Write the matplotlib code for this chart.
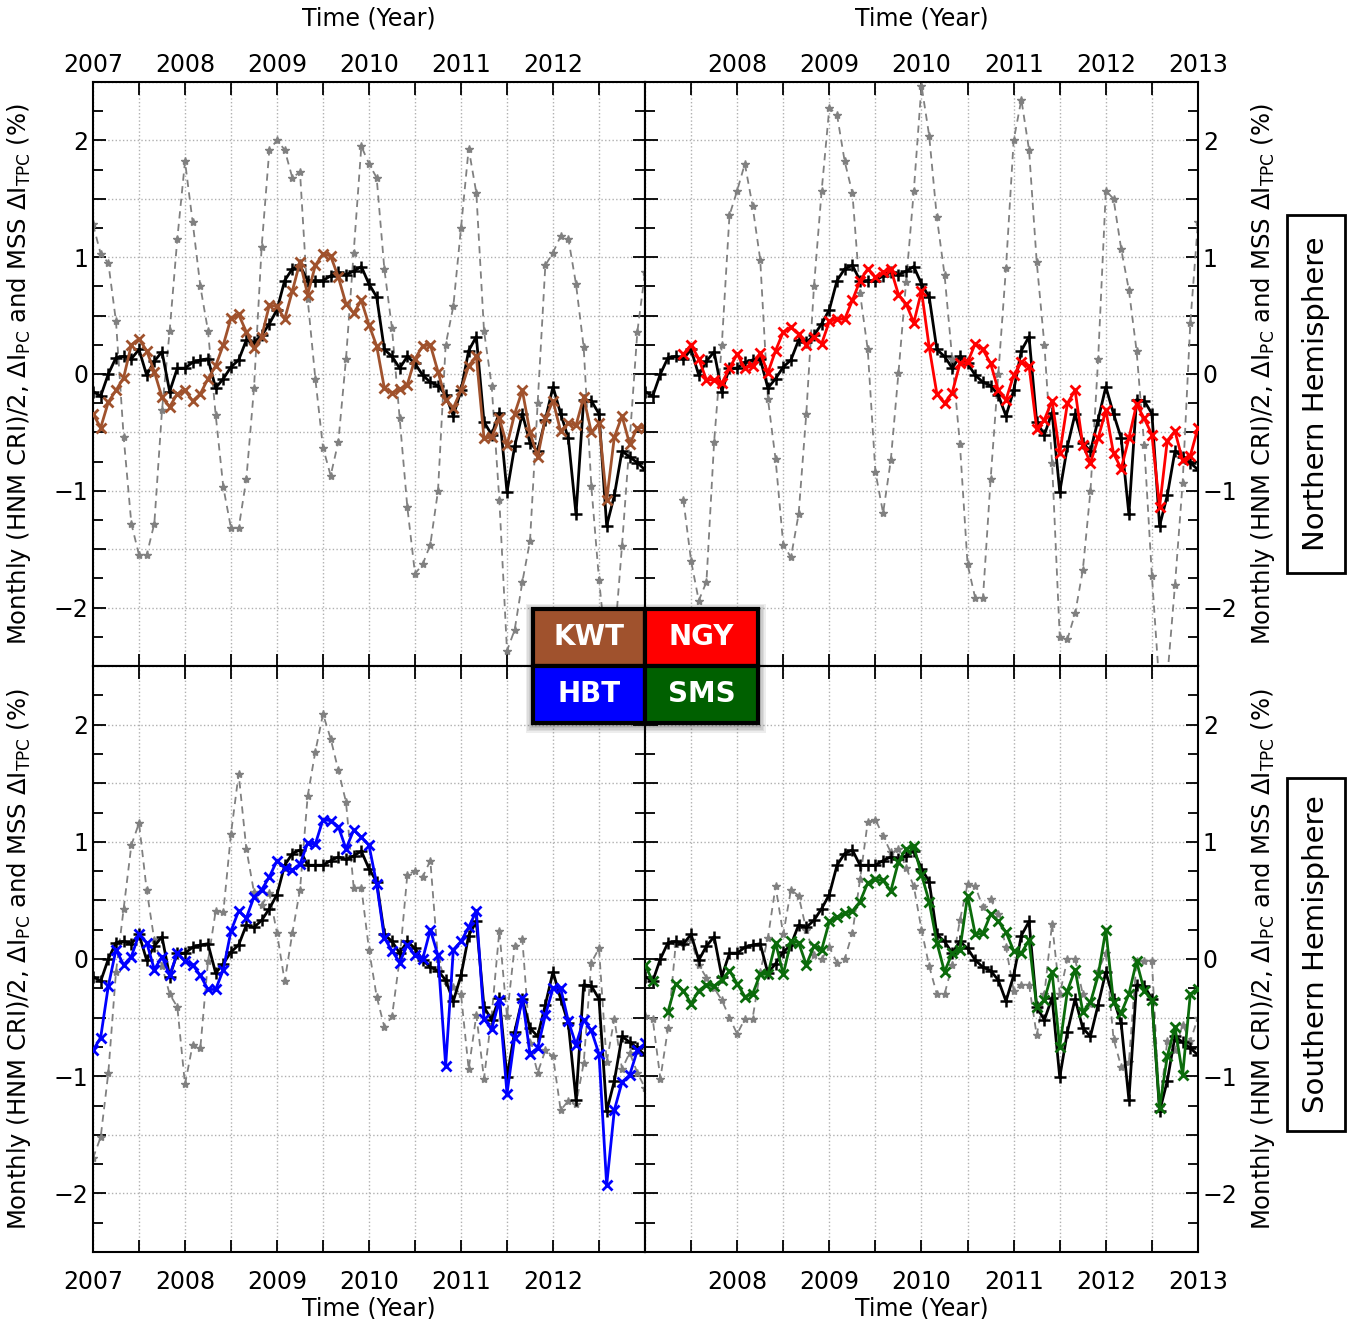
import numpy as np
import matplotlib
matplotlib.use("Agg")
import matplotlib.pyplot as plt
from matplotlib.ticker import MultipleLocator, FuncFormatter
from matplotlib.patches import Rectangle

plt.rcParams["font.family"] = ["DejaVu Sans"]
plt.rcParams["mathtext.default"] = "regular"

nan = np.nan

# monthly samples, Jan 2007 .. Jan 2013
months = 2007 + np.arange(73) / 12.0

# HNM cosmic ray intensity / 2 (same in every panel)
hnm_cri = [
    -0.15, -0.19, 0.00, 0.14, 0.15, 0.13, 0.21, -0.01, 0.11, 0.19, -0.15, 0.05,
    0.05, 0.10, 0.12, 0.13, -0.12, -0.04, 0.06, 0.12, 0.29, 0.27, 0.33, 0.43,
    0.55, 0.80, 0.90, 0.93, 0.80, 0.80, 0.80, 0.84, 0.87, 0.85, 0.88, 0.92,
    0.77, 0.66, 0.21, 0.15, 0.05, 0.15, 0.09, -0.01, -0.07, -0.10, -0.18, -0.36,
    -0.14, 0.20, 0.32, -0.41, -0.52, -0.33, -1.01, -0.62, -0.34, -0.59, -0.66, -0.39,
    -0.11, -0.34, -0.55, -1.20, -0.22, -0.23, -0.34, -1.30, -1.04, -0.66, -0.71, -0.76,
    -0.82,
]

# KWT
kwt_pc = [
    -0.34, -0.46, -0.24, -0.14, -0.03, 0.25, 0.30, 0.20, 0.02, -0.20, -0.28, -0.17,
    -0.14, -0.23, -0.17, -0.04, 0.07, 0.25, 0.48, 0.51, 0.36, 0.22, 0.32, 0.59,
    0.58, 0.47, 0.71, 0.96, 0.68, 0.93, 1.03, 1.01, 0.83, 0.60, 0.52, 0.63,
    0.42, 0.24, -0.12, -0.16, -0.13, -0.09, 0.13, 0.24, 0.25, 0.02, -0.22, -0.29,
    -0.14, 0.07, 0.15, -0.55, -0.54, -0.38, -0.61, -0.34, -0.14, -0.50, -0.71, -0.38,
    -0.23, -0.49, -0.42, -0.44, -0.20, -0.50, -0.42, -1.08, -0.54, -0.36, -0.60, -0.46,
    -0.46,
]
kwt_tpc = [
    1.28, 1.03, 0.95, 0.45, -0.54, -1.28, -1.55, -1.55, -1.28, -0.31, 0.37, 1.16,
    1.82, 1.30, 0.75, 0.37, -0.35, -0.97, -1.32, -1.32, -0.90, -0.12, 1.09, 1.92,
    2.00, 1.92, 1.68, 1.73, 0.64, -0.04, -0.63, -0.87, -0.58, 0.13, 1.04, 1.95,
    1.80, 1.68, 0.90, 0.39, -0.38, -1.14, -1.71, -1.63, -1.46, -1.00, 0.25, 0.58,
    1.25, 1.93, 1.55, 0.37, -0.10, -1.08, -2.37, -2.19, -1.78, -1.43, -0.25, 0.93,
    1.04, 1.18, 1.16, 0.77, 0.23, -0.96, -1.76, -2.40, -2.30, -1.47, -0.57, 0.36,
    0.87,
]

# NGY
ngy_pc = [
    nan, nan, nan, nan, nan, 0.17, 0.25, 0.13, -0.05, -0.05, -0.08, 0.05,
    0.17, 0.05, 0.07, 0.18, 0.01, 0.20, 0.36, 0.40, 0.34, 0.25, 0.32, 0.26,
    0.45, 0.47, 0.47, 0.63, 0.80, 0.90, 0.83, 0.87, 0.90, 0.68, 0.60, 0.44,
    0.71, 0.23, -0.17, -0.25, -0.16, 0.09, 0.10, 0.26, 0.21, 0.09, -0.14, -0.22,
    -0.01, 0.10, 0.07, -0.47, -0.39, -0.23, -0.68, -0.25, -0.14, -0.61, -0.76, -0.55,
    -0.31, -0.68, -0.81, -0.55, -0.26, -0.38, -0.52, -1.14, -0.57, -0.49, -0.74, -0.70,
    -0.46,
]
ngy_tpc = [
    nan, nan, nan, nan, nan, -1.08, -1.60, -1.94, -1.78, -0.58, 0.25, 1.36,
    1.57, 1.80, 1.44, 0.98, -0.21, -0.73, -1.46, -1.57, -1.20, -0.34, 0.75, 1.57,
    2.28, 2.22, 1.82, 1.55, 0.69, 0.21, -0.84, -1.19, -0.74, 0.01, 0.79, 1.57,
    2.47, 2.04, 1.34, 0.85, 0.13, -0.60, -1.63, -1.92, -1.92, -0.90, 0.00, 0.91,
    2.00, 2.35, 1.92, 0.96, 0.25, -0.76, -2.25, -2.27, -2.05, -1.68, -1.00, 0.13,
    1.57, 1.50, 1.07, 0.72, 0.20, -0.61, -1.73, -2.70, -2.60, -1.81, -0.93, 0.44,
    1.30,
]

# HBT
hbt_pc = [
    -0.78, -0.67, -0.23, 0.08, -0.05, 0.02, 0.21, 0.14, -0.09, 0.02, -0.14, 0.05,
    -0.02, -0.05, -0.14, -0.26, -0.26, -0.09, 0.24, 0.41, 0.35, 0.53, 0.59, 0.70,
    0.84, 0.78, 0.76, 0.81, 0.99, 0.98, 1.19, 1.18, 1.13, 0.94, 1.10, 1.04,
    0.97, 0.64, 0.18, 0.07, -0.03, 0.12, 0.03, 0.00, 0.25, 0.03, -0.91, 0.08,
    0.15, 0.27, 0.41, -0.51, -0.60, -0.35, -1.15, -0.67, -0.33, -0.81, -0.76, -0.48,
    -0.25, -0.25, -0.53, -0.73, -0.52, -0.61, -0.81, -1.93, -1.29, -1.05, -0.99, -0.78,
    -0.72,
]
hbt_tpc = [
    -1.70, -1.52, -0.97, -0.11, 0.43, 0.97, 1.16, 0.59, 0.16, -0.06, -0.30, -0.41,
    -1.07, -0.73, -0.76, -0.02, 0.41, 0.40, 1.07, 1.58, 0.94, 0.57, 0.46, 0.56,
    0.22, -0.19, 0.22, 0.59, 1.39, 1.77, 2.09, 1.88, 1.61, 1.34, 0.61, 0.61,
    0.08, -0.32, -0.58, -0.49, 0.00, 0.72, 0.75, 0.70, 0.84, 0.00, -0.19, -0.24,
    -0.30, -0.94, -0.48, -1.02, -0.48, 0.24, -0.49, 0.11, 0.17, -0.72, -0.97, -0.78,
    -0.83, -1.29, -1.21, -1.24, -0.89, -0.03, 0.09, -0.88, -0.51, -0.94, -0.80, -0.97,
    -1.10,
]

# SMS
sms_pc = [
    -0.05, -0.19, nan, -0.45, -0.21, -0.27, -0.38, -0.27, -0.22, -0.23, -0.18, -0.10,
    -0.21, -0.32, -0.30, -0.13, -0.13, 0.14, -0.13, 0.15, 0.14, -0.05, 0.11, 0.08,
    0.32, 0.36, 0.39, 0.41, 0.49, 0.65, 0.68, 0.67, 0.58, 0.83, 0.94, 0.96,
    0.72, 0.49, 0.14, -0.11, 0.05, 0.08, 0.54, 0.21, 0.22, 0.38, 0.32, 0.23,
    0.07, 0.05, 0.16, -0.41, -0.35, -0.11, -0.75, -0.27, -0.09, -0.45, -0.37, -0.14,
    0.25, -0.37, -0.46, -0.30, -0.02, -0.27, -0.35, -1.27, -0.83, -0.58, -0.99, -0.30,
    -0.26,
]
sms_tpc = [
    -0.49, -0.51, -1.02, -0.59, 0.13, 0.14, 0.16, -0.05, -0.16, -0.25, -0.35, -0.50,
    -0.64, -0.51, -0.51, -0.11, 0.18, 0.62, 0.21, 0.59, 0.54, 0.25, 0.03, 0.00,
    0.10, -0.03, 0.00, 0.22, 0.68, 1.17, 1.19, 1.05, 0.91, 0.94, 0.78, 0.62,
    0.25, -0.06, -0.30, -0.30, -0.05, 0.33, 0.64, 0.62, 0.44, 0.51, 0.38, 0.10,
    -0.27, -0.22, -0.22, -0.65, -0.30, 0.30, -0.30, 0.00, 0.00, -0.30, -0.38, -0.10,
    0.05, -0.68, -0.92, -0.88, -0.02, -0.02, -0.02, -1.26, -0.70, -0.78, -0.56, -0.70,
    -0.50,
]

station_names = ["KWT", "NGY", "HBT", "SMS"]
station_colors = ["#a0522d", "#ff0000", "#0000ff", "#006000"]
line_colors = ["#a0522d", "#ff0000", "#0000ff", "#0b6b0b"]

YLABEL = r"Monthly (HNM CRI)/2, $\Delta$I$_{PC}$ and MSS $\Delta$I$_{TPC}$ (%)"

W, H = 1351, 1319
fig = plt.figure(figsize=(W / 100, H / 100), dpi=100)


def px_rect(x0, y0, x1, y1):
    """figure-fraction rect from pixel corners (origin top-left)"""
    return [x0 / W, 1 - y1 / H, (x1 - x0) / W, (y1 - y0) / H]


axes_px = [
    (93, 82, 645, 666),
    (645, 82, 1198, 666),
    (93, 666, 645, 1252),
    (645, 666, 1198, 1252),
]
panels = [
    (kwt_pc, kwt_tpc),
    (ngy_pc, ngy_tpc),
    (hbt_pc, hbt_tpc),
    (sms_pc, sms_tpc),
]


def ytick_fmt(v, pos):
    if abs(v - round(v)) < 1e-6:
        return f"{int(round(v))}".replace("-", "\u2212")
    return ""


def make_xfmt(skip):
    def fmt(v, pos):
        if abs(v - round(v)) < 1e-6 and int(round(v)) != skip:
            return f"{int(round(v))}"
        return ""
    return fmt


for i, (rect, (pc, tpc)) in enumerate(zip(axes_px, panels)):
    ax = fig.add_axes(px_rect(*rect))
    left_col = i % 2 == 0
    top_row = i < 2

    ax.plot(months, tpc, color="#808080", ls=(0, (4, 3)), lw=1.3,
            marker="*", ms=6, mfc="#808080", mec="#808080", zorder=2)
    ax.plot(months, hnm_cri, color="black", lw=2.0, marker="+", ms=9,
            mew=1.8, zorder=3)
    ax.plot(months, pc, color=line_colors[i], lw=2.0, marker="x", ms=7,
            mew=2.0, zorder=4)

    ax.set_xlim(2007, 2013)
    ax.set_ylim(-2.5, 2.5)
    ax.xaxis.set_major_locator(MultipleLocator(0.5))
    ax.yaxis.set_major_locator(MultipleLocator(0.5))
    ax.yaxis.set_minor_locator(MultipleLocator(0.25))
    ax.xaxis.set_major_formatter(FuncFormatter(make_xfmt(2013 if left_col else 2007)))
    ax.yaxis.set_major_formatter(FuncFormatter(ytick_fmt))
    ax.grid(True, which="major", color="#b0b0b0", ls=":", lw=1.0)

    ax.tick_params(which="both", direction="in", top=True, bottom=True,
                   left=True, right=True, width=1.3, labelsize=17)
    ax.tick_params(which="major", length=9)
    ax.tick_params(which="minor", length=7)
    ax.tick_params(labelleft=left_col, labelright=not left_col,
                   labeltop=top_row, labelbottom=not top_row)
    for sp in ax.spines.values():
        sp.set_linewidth(1.5)

    if top_row:
        ax.xaxis.set_label_position("top")
        ax.set_xlabel("Time (Year)", fontsize=17, labelpad=20)
    else:
        ax.tick_params(axis="x", pad=13)
        ax.set_xlabel("Time (Year)", fontsize=17, labelpad=2)

    ax.set_ylabel(YLABEL, fontsize=17.5)
    if left_col:
        ax.yaxis.set_label_coords(-0.108, 0.5)
    else:
        ax.yaxis.set_label_position("right")
        ax.yaxis.set_label_coords(1.092, 0.5)

# station legend blocks in the middle, with a soft shadow behind
legend_px = [
    (533, 609, 645, 666),
    (645, 609, 758, 666),
    (533, 666, 645, 723),
    (645, 666, 758, 723),
]
for k in range(5, 0, -1):
    fig.patches.append(Rectangle(((533 - k * 1.5) / W, 1 - (723 + k * 1.5 + 2) / H),
                                 (225 + k * 3) / W, (114 + k * 3) / H,
                                 transform=fig.transFigure, facecolor="black",
                                 edgecolor="none", alpha=0.07, zorder=9))
for name, col, (x0, y0, x1, y1) in zip(station_names, station_colors, legend_px):
    fig.patches.append(Rectangle((x0 / W, 1 - y1 / H), (x1 - x0) / W, (y1 - y0) / H,
                                 transform=fig.transFigure, facecolor=col,
                                 edgecolor="black", lw=3, zorder=10))
    fig.text((x0 + x1) / 2 / W, 1 - (y0 + y1) / 2 / H, name, color="white",
             fontsize=20, fontweight="bold", ha="center", va="center", zorder=11)

# hemisphere tags on the right
for label, (y0, y1) in [("Northern Hemisphere", (215, 573)),
                        ("Southern Hemisphere", (778, 1131))]:
    fig.patches.append(Rectangle((1287 / W, 1 - y1 / H), 58 / W, (y1 - y0) / H,
                                 transform=fig.transFigure, facecolor="white",
                                 edgecolor="black", lw=2, zorder=10))
    fig.text(1316 / W, 1 - (y0 + y1) / 2 / H, label, rotation=90, fontsize=21,
             ha="center", va="center", zorder=11)

fig.savefig("out.png", dpi=100)
